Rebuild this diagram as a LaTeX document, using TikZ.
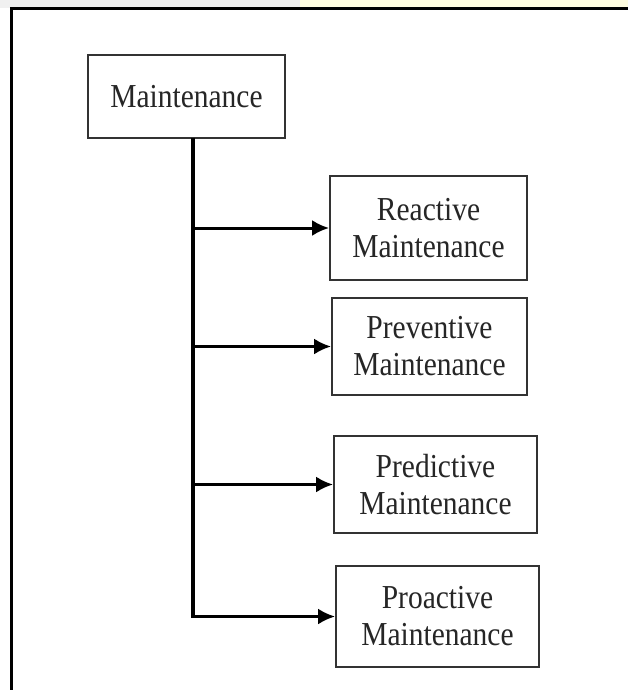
\documentclass[tikz,border=0pt]{standalone}
\usepackage{fontspec}
\setmainfont[FakeStretch=0.88]{Liberation Serif}
\usetikzlibrary{arrows.meta}
\begin{document}
\begin{tikzpicture}[x=1pt,y=-1pt,
  kindbox/.style={draw=black!80,line width=1.8pt,fill=white,inner sep=0pt,align=center,
    font=\fontsize{33.5}{37}\selectfont,text=black!85},
  branch/.style={line width=3pt,-{Latex[length=17pt,width=16pt]}}]
\useasboundingbox (0,0) rectangle (628,690);
\fill[yellow!12] (300,0) rectangle (628,8);
\fill[black!6] (0,0) rectangle (300,8);
\draw[line width=3pt] (11,690) -- (11,9) -- (628,9);

\node[kindbox,minimum width=197pt,minimum height=83pt] (main) at (186.5,96.5) {Maintenance};
\node[kindbox,minimum width=197pt,minimum height=104pt] (reactive) at (428.5,228) {Reactive\\Maintenance};
\node[kindbox,minimum width=195pt,minimum height=97pt] (preventive) at (429.5,346.5) {Preventive\\Maintenance};
\node[kindbox,minimum width=203pt,minimum height=97pt] (predictive) at (435.5,484.5) {Predictive\\Maintenance};
\node[kindbox,minimum width=203pt,minimum height=101pt] (proactive) at (437.5,616.5) {Proactive\\Maintenance};

\coordinate (trunk) at (193,138);
\draw[line width=3.6pt] (trunk) -- ([yshift=1.5pt]trunk |- proactive.west);
\draw[branch] (trunk |- reactive.west) -- (reactive.west);
\draw[branch] (trunk |- preventive.west) -- (preventive.west);
\draw[branch] (trunk |- predictive.west) -- (predictive.west);
\draw[branch] ([xshift=-1.8pt]trunk |- proactive.west) -- (proactive.west);
\end{tikzpicture}
\end{document}
